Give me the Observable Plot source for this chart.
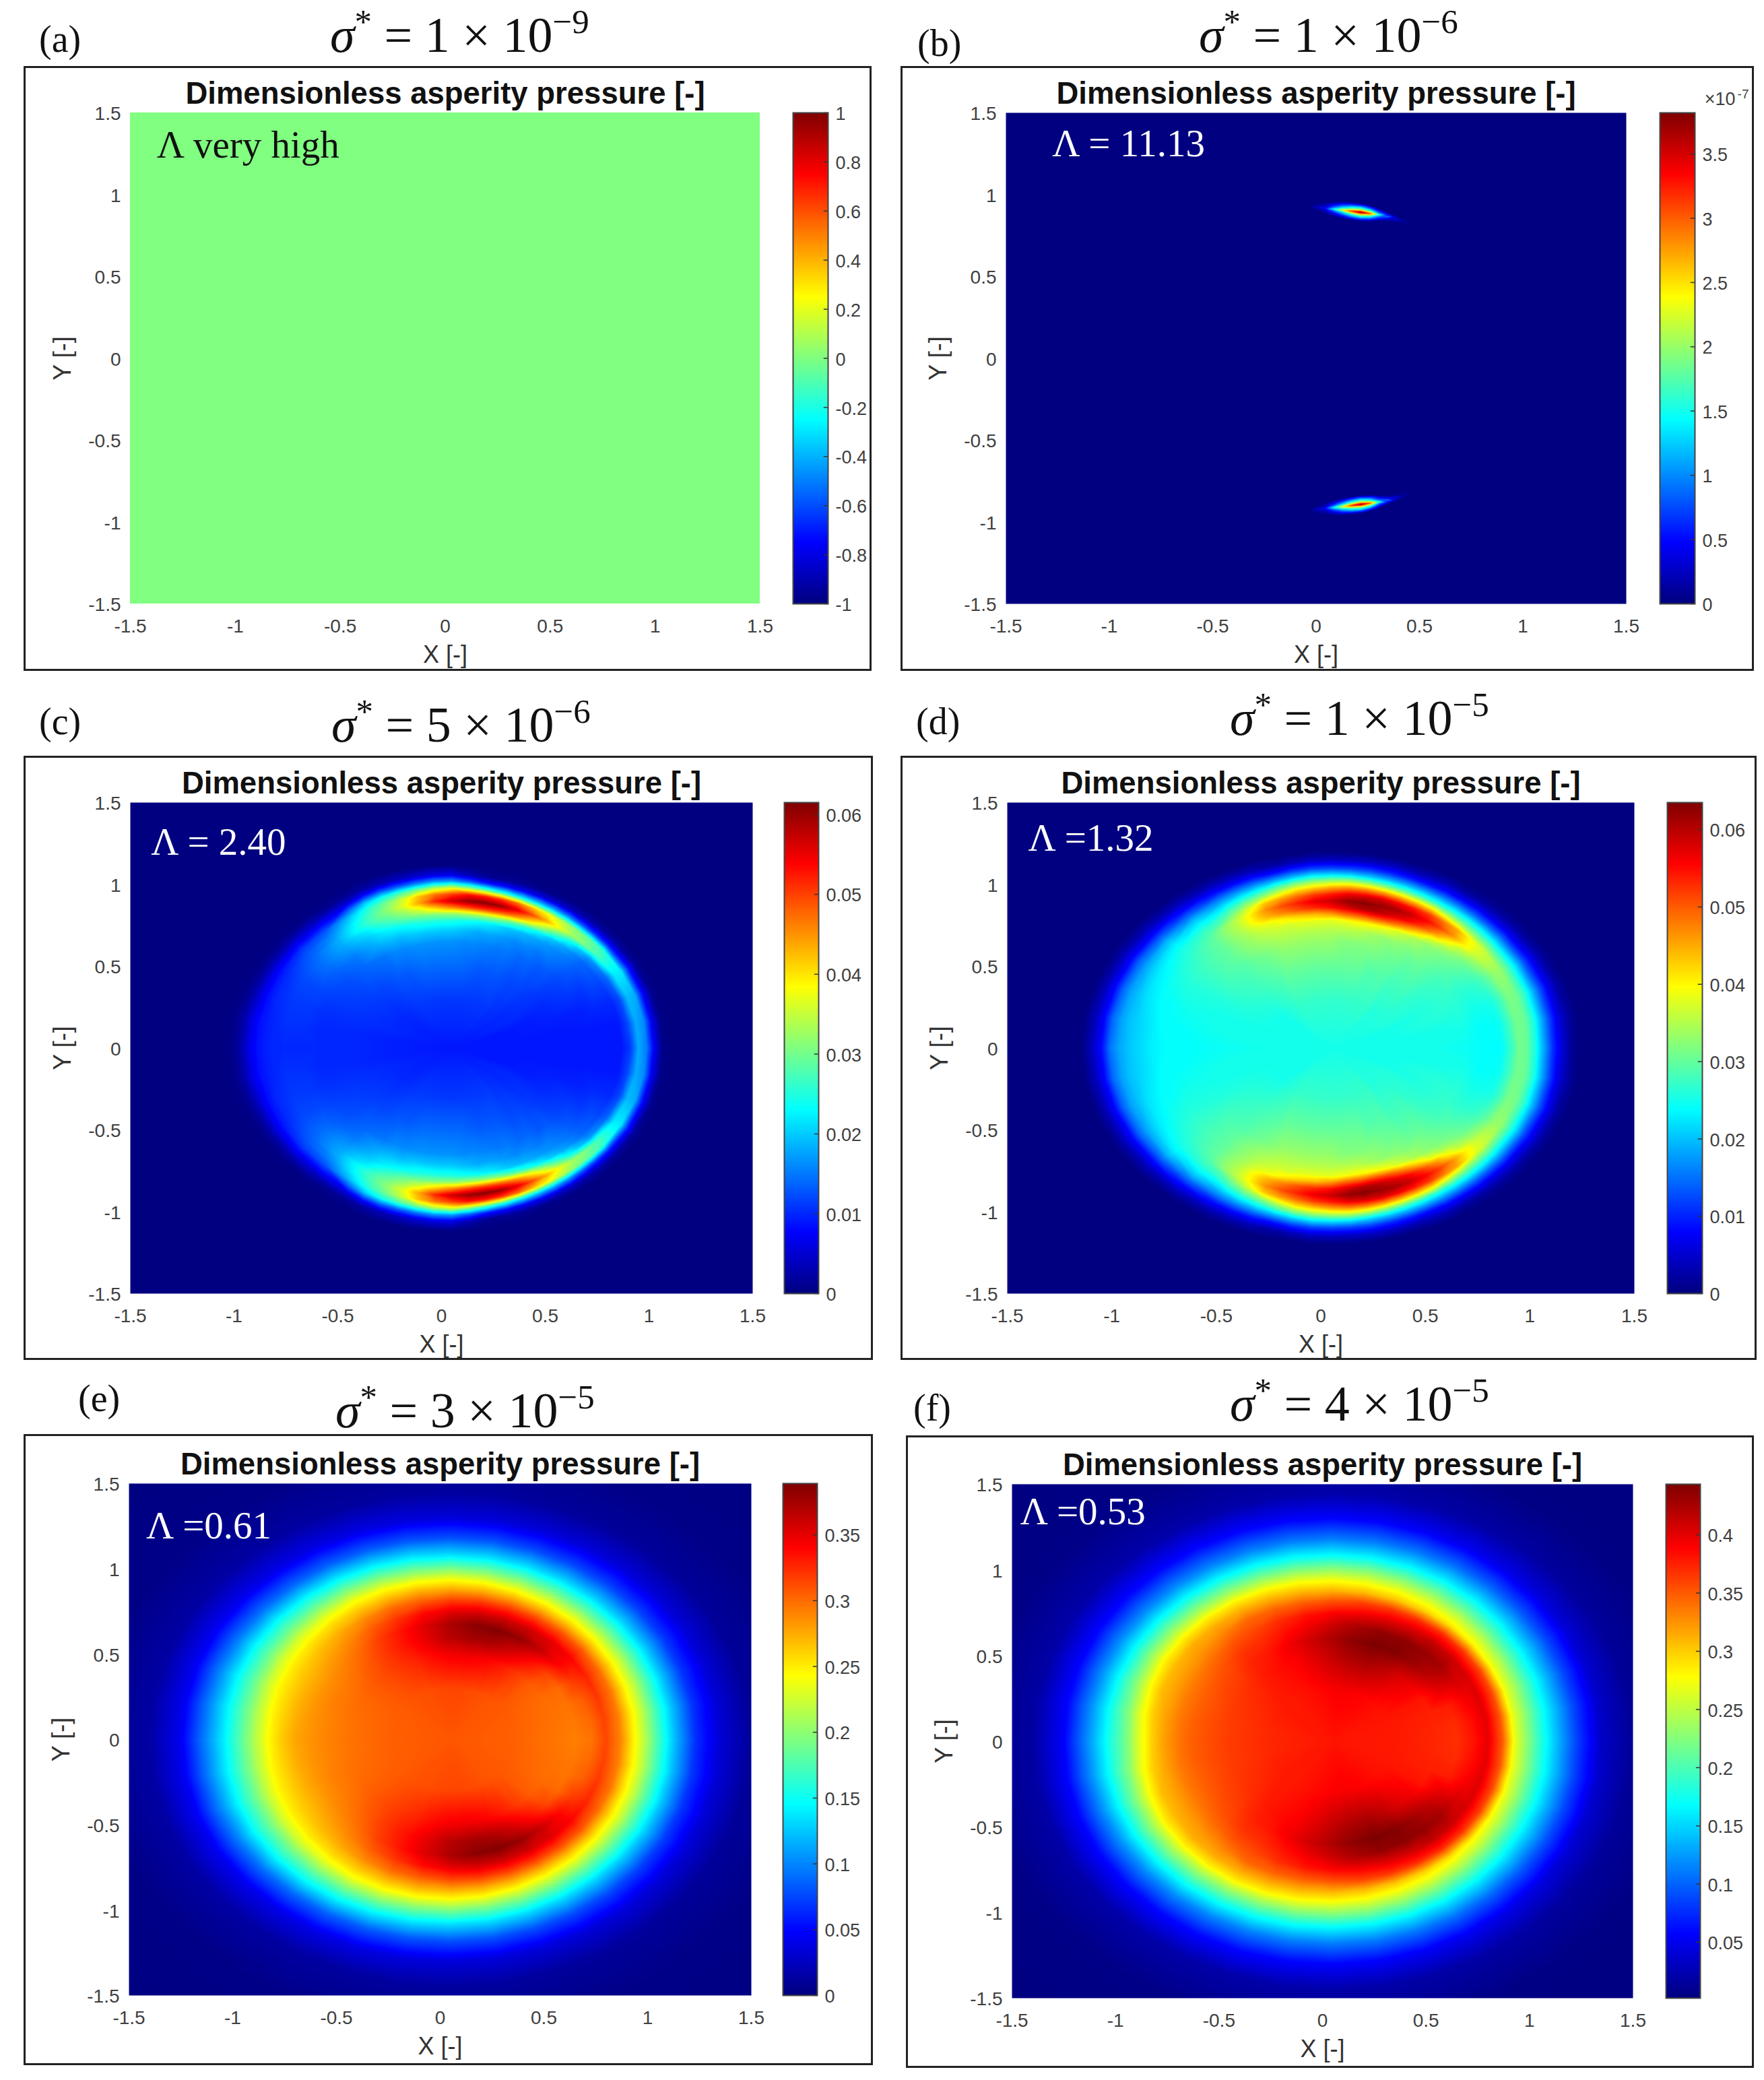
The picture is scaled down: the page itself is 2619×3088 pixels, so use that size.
<!DOCTYPE html>
<html><head><meta charset="utf-8">
<script src="https://cdn.jsdelivr.net/npm/d3@7"></script>
<script src="https://cdn.jsdelivr.net/npm/@observablehq/plot@0.6"></script>
<style>
html,body{margin:0;padding:0;background:#fff}
#page{position:relative;width:2619px;height:3088px;overflow:hidden;background:#fff}
.frame{position:absolute;box-sizing:border-box;border:3px solid #222}
.abs{position:absolute}
.abs svg,.abs{background:transparent}
.lab{position:absolute;font-family:"Liberation Serif",serif;font-size:56px;color:#111;white-space:nowrap;line-height:1}
.ttl{position:absolute;font-family:"Liberation Serif",serif;font-size:74px;color:#111;white-space:nowrap;line-height:1}
.ttl i{font-style:italic}
.ttl sup{font-size:51px;line-height:0;vertical-align:baseline;position:relative;top:-28px}
</style></head><body><div id="page"></div>
<script>
// Sampling stations (polar, about the contact centre)
const centreX = 0.05;
const raysCD = [0,10,20,30,40,45,50,55,60,65,70,75,80,85,90,95,100,105,110,115,120,130,140,150,160,170,180];
const radiiC = [0,.3,.5,.65,.72,.78,.82,.86,.9,.94,.98,1.02,1.06,1.12,2.4];
const pressureC = [ // x 1e-3
[9,9,9,9,9,9,9,11,18,15,6,.5,0,0,0],
[9,9,9,9,9,9,9,12,18,16,6,.5,0,0,0],
[9,9,9.5,9.5,10,10,10,12,19,18,7,1,0,0,0],
[9,10,10,11,11,12,12,14,22,22,9,1.5,0,0,0],
[9,10,11,12,13,13.5,14,17,28,27,10,2,0,0,0],
[9.5,10.5,11.5,13,14,15,16,20,31,29,11,2.5,0,0,0],
[9.5,10.5,12,13,15,16,18,24,33,31,13,3,.3,0,0],
[9.5,11,12,14,15,17,20,29,38,34,16,4,.5,0,0],
[9.5,11,12.5,14,16,18,23,35,44,38,18,5,.5,0,0],
[9.5,11,13,15,16,19,26,41,50,42,20,6,.5,0,0],
[9.5,11,13,15,17,20,29,46,56,47,22,7,1,0,0],
[9.5,11,13,15.5,18,22,32,49,60,50,25,8,1,0,0],
[9.5,11,13.5,16,18,23,33,50,61,52,28,9,1,0,0],
[9.5,11,14,16,19,24,33,49,60,53,32,13,3,0,0],
[9.5,11,14,16.5,20,25,32,46,57,50,36,17,6,0,0],
[9.5,11,14,16.5,20,25,31,42,52,47,34,17,6,0,0],
[9.5,11,14,16.5,20,25,30,37,44,42,30,15,5,0,0],
[9.5,11,14,16.5,20,24,29,33,37,35,27,13,4,0,0],
[9.5,11,13.5,16,19,23,27,30,32,30,24,12,3,0,0],
[9.5,11,13,16,19,22,25,28,28,26,20,9,2,0,0],
[9.5,11,13,15,18,20,22,25,24,21,14,5,1,0,0],
[9.5,10.5,12,14,15,17,18,18,16,13,8,3,.5,0,0],
[9.5,10,11.5,12.5,13.5,14.5,14.5,14,13,11,7,2.5,.4,0,0],
[9.5,10,11,11.5,12,12,12,11.5,10.5,9,6,2,.3,0,0],
[9.5,10,10.5,10.5,11,11,11,10.5,10,8.5,5.5,2,.4,0,0],
[9.5,9.5,10,10,10.5,10.5,10.5,10,9.5,8.5,6,2.5,.6,0,0],
[9,9.5,10,10,10,10,10,10,9.5,8.5,6,2.5,.6,0,0]];

const radiiD = [0,.3,.5,.65,.72,.78,.82,.86,.9,.94,.98,1.02,1.06,1.1,1.15,1.2,2.4];
const pressureD = [ // x 1e-3
[25,25,25,24.5,24,23.8,24,27,31,30,25,18,11,6,1.5,0,0],
[25,25,25,25,24,24,24.5,27.5,31,30.5,26,19,12,6,2,0,0],
[25,25,26,26,25,25,25.5,28,31.5,31,27,20,13,7,2,0,0],
[25,26,26,27,26.5,27,28,30,33,33,28,21,13,7,2,0,0],
[25,26,27,28,29,30,31,34,37,37,30,22,14,7,2,0,0],
[25,26,28,29,30,31,33,36,41,40,31,23,14,7,2,0,0],
[25,26,28,30,31,32,35,41,47,45,33,24,15,8,2,0,0],
[25,27,28,30,32,33,38,47,52,48,36,25,16,8,2,0,0],
[25,27,29,31,32,35,43,52,56,52,40,26,17,9,3,0,0],
[25,27,29,31,33,37,47,56,59,54,42,28,18,9,3,0,0],
[25,27,29,32,33,39,50,58,61,56,44,30,19,10,3,0,0],
[25,27,30,32,34,40,51,60,62,58,46,32,20,11,4,0,0],
[25,27,30,32,35,40,50,60,63,58,47,34,21,12,4,0,0],
[25,27,30,32,35,39,49,58,62,57,47,35,22,12,4,0,0],
[25,27,30,33,35,38,46,55,59,54,45,34,22,12,4,0,0],
[25,27,30,33,35,38,44,53,57,52,43,33,22,12,4,0,0],
[25,27,30,33,35,38,43,51,54,49,41,31,20,11,3,0,0],
[25,27,30,33,35,37,41,48,51,46,37,28,18,9,2,0,0],
[25,27,30,33,35,37,39,45,47,43,33,25,17,9.5,3,0,0],
[25,27,30,32,34,36,38,41,41,37,30,23,16,9,3,0,0],
[25,27,29,31,33,34,35,36,36,32,27,21,15,8.5,3,0,0],
[25,26,28,29,30,30,30,30,29,27,24,20,14,8,3,0,0],
[25,25,27,28,28,28,27.5,27,26,25,23,19.5,14,8,3,0,0],
[25,25,26,26,26,26,25.5,25,24,23,21,18,14,8,3,0,0],
[25,25,25,25,25,24.5,24,24,23,22,20,18,14,8,3,0,0],
[25,25,25,24.5,24,24,24,23,22,21,20,18,14.5,8.2,3.2,0,0],
[25,25,24.5,24,24,24,23.5,23,22,21,19.8,18,15,8.5,3.5,0,0]];

const raysEF = [0,10,20,30,40,50,60,70,80,90,100,110,120,130,140,150,160,170,180];
const radiiEF = [0,.3,.5,.6,.68,.75,.82,.88,.94,1.0,1.08,1.18,1.3,1.45,1.7,2.4];
const pressureE = [ // x 1e-3
[308,304,296,292,296,314,290,250,214,172,122,67,33,10,3,0],
[308,304,297,294,300,316,292,252,216,174,124,69,33,10,3,0],
[308,305,298,296,305,320,296,254,218,176,125,70,33,10,3,0],
[308,306,300,300,318,328,300,258,220,178,127,72,34,10,3,0],
[308,307,305,315,340,342,308,262,222,180,128,74,34,10,3,0],
[308,308,318,338,362,352,312,266,226,182,130,76,35,11,3,0],
[308,310,332,358,380,358,316,270,230,186,132,77,35,11,3,0],
[308,312,342,372,388,360,318,274,234,190,134,78,35,11,3,0],
[308,314,346,375,385,358,318,276,238,192,136,80,35,12,3,0],
[308,314,345,368,372,350,314,276,240,195,136,80,35,12,3,0],
[308,313,338,352,354,338,306,274,240,195,140,82,36,12,3,0],
[308,311,328,336,335,322,300,270,240,198,143,84,38,12,3,0],
[308,310,320,322,318,306,288,264,238,198,146,86,39,13,3,0],
[308,308,312,308,300,290,276,258,232,195,148,88,40,13,3,0],
[308,306,305,298,290,280,268,252,228,192,150,92,42,14,3,0],
[308,305,300,293,285,274,262,248,224,190,151,96,44,14,3,0],
[308,304,298,292,284,274,260,246,220,188,150,100,45,14,3,0],
[308,304,296,290,284,275,260,244,216,186,148,100,44,14,3,0],
[308,304,296,290,284,277,262,243,216,186,146,100,44,14,3,0]];
const pressureF = [ // x 1e-3
[380,378,372,368,380,398,350,268,228,187,140,85,33,12,4,2],
[380,378,373,370,383,400,352,270,231,190,143,87,35,12,4,2],
[380,379,375,376,390,402,356,274,234,193,145,89,37,13,4,2],
[380,380,380,400,405,405,360,278,238,196,148,92,40,14,4,2],
[380,382,395,418,428,412,365,284,246,204,154,96,44,15,4,2],
[380,385,405,432,435,415,370,292,254,212,160,101,48,17,4,2],
[380,388,420,442,438,408,368,298,262,220,165,106,52,18,4,2],
[380,390,428,445,435,402,365,304,268,226,168,109,55,19,5,2],
[380,392,425,438,425,395,360,308,272,230,170,111,57,20,5,2],
[380,390,415,425,410,388,352,310,275,232,172,112,58,20,5,2],
[380,386,402,410,395,380,348,312,278,234,174,113,59,20,5,2],
[380,383,390,395,382,370,346,314,281,235,176,114,60,20,5,2],
[380,380,384,380,370,358,344,315,284,236,178,115,60,20,5,2],
[380,378,378,374,366,352,332,314,284,237,180,117,60,20,5,2],
[380,378,370,362,354,342,324,313,283,238,181,118,60,20,5,2],
[380,376,366,358,348,336,320,308,282,238,182,120,60,20,5,2],
[380,374,364,355,346,335,318,306,276,232,181,121,59,19,5,2],
[380,372,363,355,347,336,318,300,269,225,180,122,58,18,4,2],
[380,372,363,355,348,336,318,295,262,218,178,122,56,17,4,2]];

// Panel (b): cross-sections of the hot spot (x, ridge y, peak in 1e-7, half thickness in y)
const spotX = [-.03,0,.043,.086,.13,.173,.217,.26,.304,.347,.39,.434,.47];
const spotY = [.93,.925,.918,.912,.906,.899,.892,.885,.877,.866,.85,.832,.82];
const spotPeak = [0,.23,.46,1.45,2.37,3.25,3.82,3.13,1.6,.95,.38,.11,0];
const spotHalf = [.018,.023,.036,.044,.052,.055,.055,.05,.04,.028,.02,.016,.014];
const spotOffsets = [0,.3,.6,1];
const spotShare = [1,.55,.3,0];
const farX = [-1.5,-1,-.5,0,.5,1,1.5];
const farY = [-1.5,-.7,0,.7,1.5];

const zeroField = [0];
const xyTicks = [-1.5,-1,-.5,0,.5,1,1.5];
const ticksA = [-1,-.8,-.6,-.4,-.2,0,.2,.4,.6,.8,1];
const ticksB = [0,.5,1,1.5,2,2.5,3,3.5];
const ticksC = [0,.01,.02,.03,.04,.05,.06];
const ticksD = [0,.01,.02,.03,.04,.05,.06];
const ticksE = [0,.05,.1,.15,.2,.25,.3,.35];
const ticksF = [.05,.1,.15,.2,.25,.3,.35,.4];
const chartTitle = "Dimensionless asperity pressure [-]";

function polar(rays, radii, table, unit){
  const out = [];
  rays.forEach((a,i)=>radii.forEach((r,j)=>{
    const t = a*Math.PI/180, x = centreX + r*Math.cos(t), y = r*Math.sin(t), v = table[i][j]*unit;
    out.push({x,y,v});
    if (a!==0 && a!==180 && r>0) out.push({x,y:-y,v});
  }));
  return out;
}
function spotSamples(){
  const out = [];
  farX.forEach(x=>farY.forEach(y=>out.push({x,y,v:0})));
  spotX.forEach((x,i)=>spotOffsets.forEach((o,k)=>{
    const v = spotPeak[i]*spotShare[k];
    for (const s of (o?[1,-1]:[1])) {
      const y = spotY[i]+s*o*spotHalf[i];
      out.push({x,y,v},{x,y:-y,v});
    }
  }));
  return out;
}
const jet = t=>{
  const c = u=>Math.round(255*Math.max(0,Math.min(1,u)));
  const r = 1.5-Math.abs(4*t-3), g = 1.5-Math.abs(4*t-2), b = 1.5-Math.abs(4*t-1);
  return `rgb(${c(r)},${c(g)},${c(b)})`;
};

const panels = [
 {id:"a",frame:[35,98,1294,996],plot:[193,1128,167,896],bar:[1177,1229],domain:[-1,1],ticks:ticksA,fmt:d=>String(d),
  samples:null,label:"(a)",labelPos:[58,30],title:["1","9"],titlePos:[490,15],note:"Λ very high",noteAt:[-1.374,1.3],noteFill:"#111"},
 {id:"b",frame:[1337,98,2604,996],plot:[1493,2414,167,896],bar:[2464,2516],domain:[0,3.82],ticks:ticksB,fmt:d=>String(d),
  samples:spotSamples(),label:"(b)",labelPos:[1362,36],title:["1","6"],titlePos:[1780,15],note:"Λ = 11.13",noteAt:[-1.276,1.31],noteFill:"#fff",exp:true},
 {id:"c",frame:[35,1122,1296,2019],plot:[193,1117,1191,1920],bar:[1164,1215],domain:[0,.0615],ticks:ticksC,fmt:d=>String(d),
  samples:polar(raysCD,radiiC,pressureC,1e-3),label:"(c)",labelPos:[58,1043],title:["5","6"],titlePos:[492,1039],note:"Λ = 2.40",noteAt:[-1.4,1.257],noteFill:"#fff"},
 {id:"d",frame:[1337,1122,2608,2019],plot:[1495,2426,1191,1920],bar:[2475,2527],domain:[0,.0635],ticks:ticksD,fmt:d=>String(d),
  samples:polar(raysCD,radiiD,pressureD,1e-3),label:"(d)",labelPos:[1360,1043],title:["1","5"],titlePos:[1826,1029],note:"Λ =1.32",noteAt:[-1.4,1.28],noteFill:"#fff"},
 {id:"e",frame:[35,2129,1296,3066],plot:[191,1115,2202,2962],bar:[1162,1213],domain:[0,.389],ticks:ticksE,fmt:d=>String(d),
  samples:polar(raysEF,radiiEF,pressureE,1e-3),label:"(e)",labelPos:[116,2048],title:["3","5"],titlePos:[498,2057],note:"Λ =0.61",noteAt:[-1.417,1.25],noteFill:"#fff"},
 {id:"f",frame:[1345,2131,2604,3070],plot:[1502,2424,2203,2966],bar:[2473,2524],domain:[.002,.4435],ticks:ticksF,fmt:d=>String(d),
  samples:polar(raysEF,radiiEF,pressureF,1e-3),label:"(f)",labelPos:[1356,2062],title:["4","5"],titlePos:[1826,2047],note:"Λ =0.53",noteAt:[-1.46,1.337],noteFill:"#fff"}
];

const page = document.getElementById("page");
const place = (el,l,t)=>{ const d=document.createElement("div"); d.className="abs"; d.style.left=l+"px"; d.style.top=t+"px"; d.appendChild(el); page.appendChild(d); };

for (const p of panels){
  const [fl,ft,fr,fb]=p.frame, [pl,pr,pt,pb]=p.plot;
  const box=document.createElement("div"); box.className="frame";
  box.style.cssText=`left:${fl}px;top:${ft}px;width:${fr-fl}px;height:${fb-ft}px`;
  page.appendChild(box);

  const lab=document.createElement("div"); lab.className="lab"; lab.textContent=p.label;
  lab.style.left=p.labelPos[0]+"px"; lab.style.top=p.labelPos[1]+"px"; page.appendChild(lab);

  const ttl=document.createElement("div"); ttl.className="ttl";
  ttl.innerHTML=`<i>σ</i><sup>*</sup> = ${p.title[0]} × 10<sup>−${p.title[1]}</sup>`;
  ttl.style.left=p.titlePos[0]+"px"; ttl.style.top=p.titlePos[1]+"px"; page.appendChild(ttl);

  const color={type:"linear",domain:p.domain,interpolate:jet,clamp:true};
  const field = p.samples
    ? Plot.raster(p.samples,{x:"x",y:"y",fill:"v",interpolate:"barycentric",pixelSize:1,x1:-1.5,x2:1.5,y1:-1.5,y2:1.5})
    : Plot.rect(zeroField,{x1:()=>-1.5,x2:()=>1.5,y1:()=>-1.5,y2:()=>1.5,fill:d=>d});
  const fig=Plot.plot({
    width:fr-fl,height:fb-ft,
    marginLeft:pl-fl,marginRight:fr-pr,marginTop:pt-ft,marginBottom:fb-pb,
    style:{fontFamily:"Liberation Sans, Arial, sans-serif",background:"transparent",color:"#404040",overflow:"visible"},
    x:{domain:[-1.5,1.5],axis:null},y:{domain:[-1.5,1.5],axis:null},
    color,
    marks:[
      field,
      Plot.axisX({ticks:xyTicks,tickSize:0,tickPadding:23,fontSize:28,tickFormat:d=>String(d),label:null}),
      Plot.axisY({ticks:xyTicks,tickSize:0,tickPadding:14,dy:2,fontSize:28,tickFormat:d=>String(d),label:null}),
      Plot.text([chartTitle],{frameAnchor:"top",dy:-14,lineAnchor:"bottom",fontWeight:"bold",fontSize:45.5,fill:"#111"}),
      Plot.text(["X [-]"],{frameAnchor:"bottom",dy:76,lineAnchor:"middle",fontSize:36,fill:"#333"}),
      Plot.text(["Y [-]"],{frameAnchor:"left",dx:-100,rotate:-90,textAnchor:"middle",fontSize:36,fill:"#333"}),
      Plot.text([p.note],{x:()=>p.noteAt[0],y:()=>p.noteAt[1],textAnchor:"start",lineAnchor:"middle",fontFamily:"Liberation Serif, serif",fontSize:57,fill:p.noteFill})
    ]
  });
  place(fig,fl,ft);

  // colour bar
  const [bl,br]=p.bar, n=256, step=(p.domain[1]-p.domain[0])/n;
  const bins=d3.range(n).map(i=>({y1:p.domain[0]+i*step,y2:p.domain[0]+(i+1)*step}));
  const bar=Plot.plot({
    width:br-bl+90,height:pb-pt+30,marginLeft:0,marginRight:90,marginTop:15,marginBottom:15,
    style:{fontFamily:"Liberation Sans, Arial, sans-serif",background:"transparent",color:"#404040",overflow:"visible"},
    x:{domain:[0,1],axis:null},y:{domain:p.domain,axis:null},color,
    marks:[
      Plot.rect(bins,{x1:()=>0,x2:()=>1,y1:"y1",y2:"y2",fill:d=>(d.y1+d.y2)/2,shapeRendering:"crispEdges"}),
      Plot.ruleY(p.ticks,{x1:()=>.88,x2:()=>1,stroke:"#333",strokeWidth:1.5}),
      Plot.frame({stroke:"#444",strokeWidth:2}),
      Plot.axisY({anchor:"right",ticks:p.ticks,tickSize:0,tickPadding:11,dy:2,fontSize:27,tickFormat:p.fmt,label:null,textAnchor:"start"}),
      ...(p.exp?[Plot.text(["×10"],{frameAnchor:"top-right",dx:60,dy:-12,lineAnchor:"bottom",fontSize:27,fill:"#404040"}),
                 Plot.text(["-7"],{frameAnchor:"top-right",dx:80,dy:-22,lineAnchor:"bottom",fontSize:19,fill:"#404040"})]:[])
    ]
  });
  place(bar,bl,pt-15);
}
</script></body></html>
